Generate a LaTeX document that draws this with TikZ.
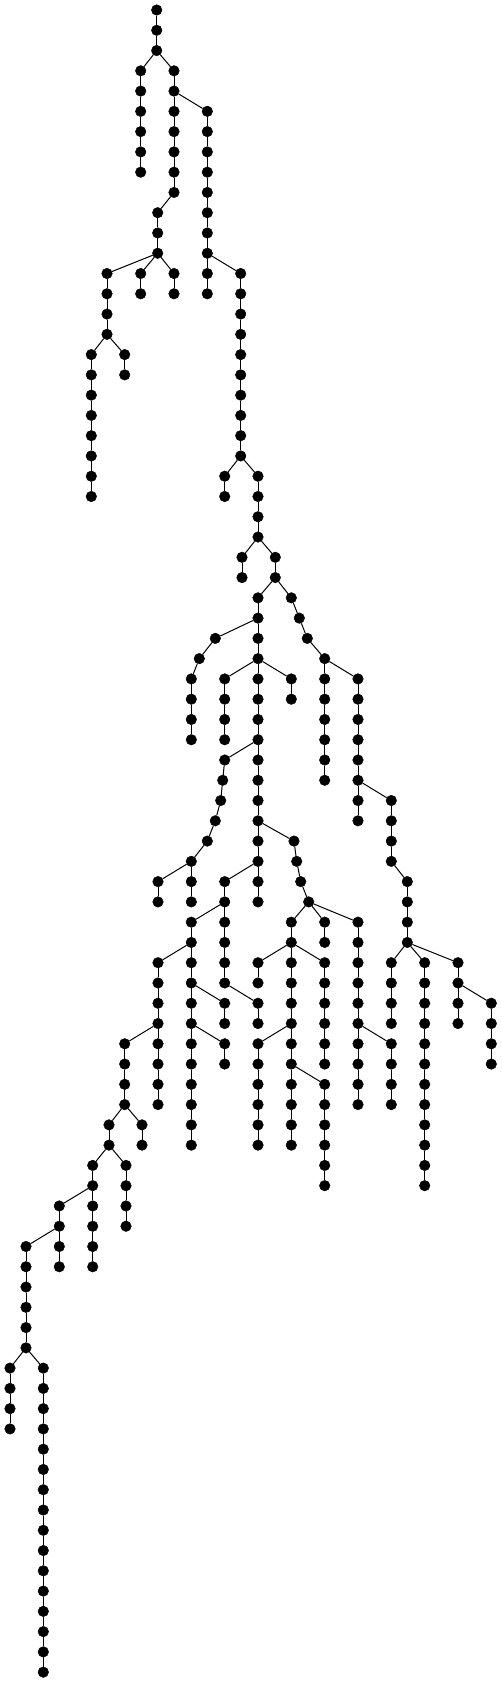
\documentclass[tikz,border=0pt]{standalone}
\usepackage{tikz}

\begin{document}
\begin{tikzpicture}[x=1pt, y=-20.27pt,
    dot/.style={circle, fill=black, draw=black, inner sep=0pt, minimum size=10.6pt},
    link/.style={line width=1pt, black}
]
\useasboundingbox (0,-0.4933) rectangle (502,82.486);

% vertical runs of the tree: name/x/first level/last level
\foreach \nm/\px/\lo/\hi in {
    r/156.7/0/2, a/140.7/3/8, b/174/3/9, c/207.3/5/14, e/157.7/10/12,
    g/140.7/13/14, h/174/13/14, f/107/13/16, j/124.7/17/18, i/91.3/17/24,
    d/240.7/13/22, k/224.7/23/24, m/258/23/26, n/242/27/28, p/275.3/27/28,
    q/258/29/30, t/215.3/31/31, t/199.3/32/32, t/191.3/33/36, u/258/31/32,
    v/224.7/33/36, w/258/33/36, x/291.3/33/34,
    y/224.7/37/37, y/222.7/38/38, y/220.7/39/39, y/215.3/40/40, y/207.3/41/41, y/191.3/42/42,
    aa/158/43/44, ab/191.3/43/44, z/258/37/40, ac/258/41/42, af/258/43/44,
    ae/224.7/43/44, ag/191.3/45/46, ai/158/47/50, al/158/51/54, ak/124.7/51/54,
    an/142/55/56, am/109/55/56, ap/126/57/60, ao/92.7/57/58, ar/92.7/59/62,
    aq/59.3/59/60, at/59.3/61/62, as/26/61/66, au/10/67/70, av/43.3/67/82,
    aj/191.3/47/48, ax/224.7/49/50, aw/191.3/49/50, az/224.7/51/52, ay/191.3/51/56,
    ah/224.7/45/48, ba/258/49/50,
    ad/294/41/41, ad/296.7/42/42, ad/300.7/43/43, ad/308.7/44/44,
    bb/291.3/45/46, be/258/47/48, bf/291.3/47/50, bh/258/51/56, bi/291.3/51/52,
    bj/291.3/53/56, bk/324.7/53/58, bg/324.7/47/52, bc/324.7/45/46,
    bd/358/45/50, bl/358/51/54, bm/391.3/51/54,
    s/291.3/29/29, s/299.3/30/30, s/307.3/31/31, s/324.7/32/32,
    bn/324.7/33/38, bo/358/33/38, bp/358/39/40, bq/391.3/39/42, br/407.3/43/46,
    bs/391.3/47/50, bt/424.7/47/58, bu/458/47/48, bv/458/49/50, bw/491.3/49/52} {
  \foreach \lv in {\lo,...,\hi} \node[dot] (\nm\lv) at (\px,\lv) {};
  \foreach \lv in {\lo,...,\hi} {
    \ifnum\lv>\lo\relax
      \pgfmathtruncatemacro{\pv}{\lv-1}
      \draw[link] (\nm\pv) -- (\nm\lv);
    \fi
  }
}

% branchings: parent/child
\foreach \pa/\ch in {
    r2/a3, r2/b3, b4/c5, c12/d13, b9/e10, e12/f13, e12/g13, e12/h13,
    f16/i17, f16/j17, d22/k23, d22/m23, m26/n27, m26/p27, p28/q29, p28/s29,
    q30/t31, q30/u31, t31/t32, t32/t33, u32/v33, u32/w33, u32/x33,
    w36/y37, w36/z37, y37/y38, y38/y39, y39/y40, y40/y41, y41/y42,
    y42/aa43, y42/ab43, z40/ac41, z40/ad41, ac42/ae43, ac42/af43,
    ae44/ag45, ae44/ah45, ag46/ai47, ag46/aj47, ai50/ak51, ai50/al51,
    ak54/am55, ak54/an55, am56/ao57, am56/ap57, ao58/aq59, ao58/ar59,
    aq60/as61, aq60/at61, as66/au67, as66/av67,
    aj48/aw49, aj48/ax49, aw50/ay51, aw50/az51, ah48/ba49,
    ad41/ad42, ad42/ad43, ad43/ad44, ad44/bb45, ad44/bc45, ad44/bd45,
    bb46/be47, bb46/bf47, bb46/bg47, bf50/bh51, bf50/bi51, bi52/bj53, bi52/bk53,
    bd50/bl51, bd50/bm51,
    s29/s30, s30/s31, s31/s32, s32/bn33, s32/bo33, bo38/bp39, bo38/bq39,
    bq42/br43, br46/bs47, br46/bt47, br46/bu47, bu48/bv49, bu48/bw49}
  \draw[link] (\pa) -- (\ch);

\end{tikzpicture}
\end{document}
